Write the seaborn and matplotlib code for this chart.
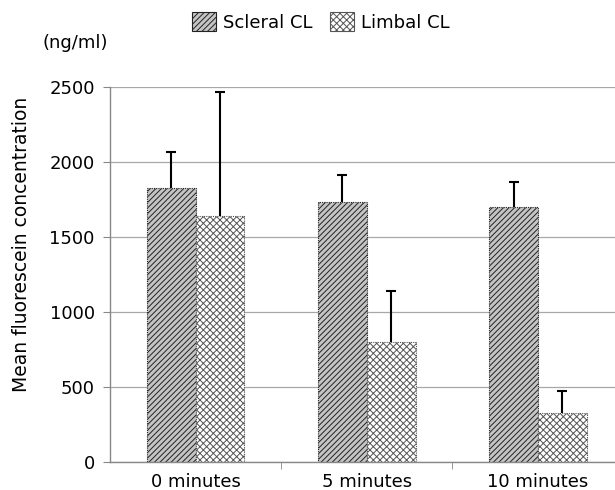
import matplotlib
matplotlib.use("Agg")
import matplotlib.pyplot as plt
import matplotlib.patches as mpatches
import seaborn as sns
import numpy as np
import pandas as pd

# ----------------------------------------------------------------------
# Data
# ----------------------------------------------------------------------
times = ["0 minutes", "5 minutes", "10 minutes"]
lenses = ["Scleral CL", "Limbal CL"]
scleral_mean = [1825, 1730, 1700]
scleral_sd = [240, 180, 165]
limbal_mean = [1640, 800, 325]
limbal_sd = [825, 340, 148]
y_ticks = [0, 500, 1000, 1500, 2000, 2500]

df = pd.DataFrame({
    "time": times * 2,
    "lens": [lenses[0]] * 3 + [lenses[1]] * 3,
    "mean": scleral_mean + limbal_mean,
    "sd": scleral_sd + limbal_sd,
})

sns.set_style("white")
plt.rcParams["font.family"] = ["DejaVu Sans"]
plt.rcParams["text.color"] = "black"
plt.rcParams["axes.labelcolor"] = "black"
plt.rcParams["xtick.labelcolor"] = "black"
plt.rcParams["ytick.labelcolor"] = "black"
plt.rcParams["hatch.linewidth"] = 0.7

styles = {
    "Scleral CL": dict(hatch="//////", edge="#222222", face="#c4c4c4"),
    "Limbal CL": dict(hatch="xxxxx", edge="#555555", face="white"),
}

fig = plt.figure(figsize=(6.15, 4.9), dpi=100)
ax = fig.add_axes([110 / 615, 28 / 490, 505 / 615, 375 / 490])

sns.barplot(data=df, x="time", y="mean", hue="lens", order=times,
            hue_order=lenses, width=0.57, errorbar=None, ax=ax,
            palette=[styles[n]["face"] for n in lenses], legend=False,
            zorder=2)

for cont, name in zip(ax.containers, lenses):
    for p in cont.patches:
        p.set_hatch(styles[name]["hatch"])
        p.set_edgecolor(styles[name]["edge"])
        p.set_linewidth(0.8)
        p.set_linestyle((0, (1, 1)))

# one-sided error bars (upward only)
for cont, name in zip(list(ax.containers), lenses):
    sub = df[df["lens"] == name].set_index("time").loc[times]
    xs = [p.get_x() + p.get_width() / 2 for p in cont.patches]
    eb = ax.errorbar(xs, sub["mean"], yerr=[np.zeros(len(xs)), sub["sd"]],
                     fmt="none", ecolor="black", elinewidth=1.5,
                     capsize=3.5, capthick=1.5, zorder=3)
    eb[1][0].set_visible(False)  # hide lower caps

ax.set_xlim(-0.5, 2.45)
ax.set_ylim(0, 2500)
ax.set_yticks(y_ticks)
ax.yaxis.grid(True, color="#a8a8a8", linewidth=0.9, zorder=0)
ax.set_axisbelow(True)
ax.set_xlabel("")
ax.set_ylabel("Mean fluorescein concentration", fontsize=13.5)
ax.yaxis.set_label_coords(-0.156, 0.58)

ax.tick_params(axis="y", labelsize=13, length=5, color="#888888",
               direction="out", pad=6, left=True)
ax.tick_params(axis="x", which="major", labelsize=13, length=0, pad=8)
ax.set_xticks([0.5, 1.5], minor=True)
ax.tick_params(axis="x", which="minor", length=5, color="#888888",
               direction="out", bottom=True)

for side in ["top", "right"]:
    ax.spines[side].set_visible(False)
for side in ["left", "bottom"]:
    ax.spines[side].set_color("#888888")
    ax.spines[side].set_linewidth(1.0)

fig.text(42 / 615, 1 - 43 / 490, "(ng/ml)", fontsize=13, va="center",
         ha="left")

# legend
handles = [mpatches.Patch(facecolor=styles[n]["face"],
                          edgecolor=styles[n]["edge"],
                          hatch=styles[n]["hatch"], linewidth=0.8, label=n)
           for n in lenses]
fig.legend(handles=handles, loc="center", ncol=2,
           bbox_to_anchor=(321 / 615, 1 - 22 / 490), frameon=False,
           fontsize=13, handlelength=1.3, handleheight=1.25,
           handletextpad=0.4, columnspacing=1.0, borderpad=0)

fig.savefig("out.png", dpi=100)
